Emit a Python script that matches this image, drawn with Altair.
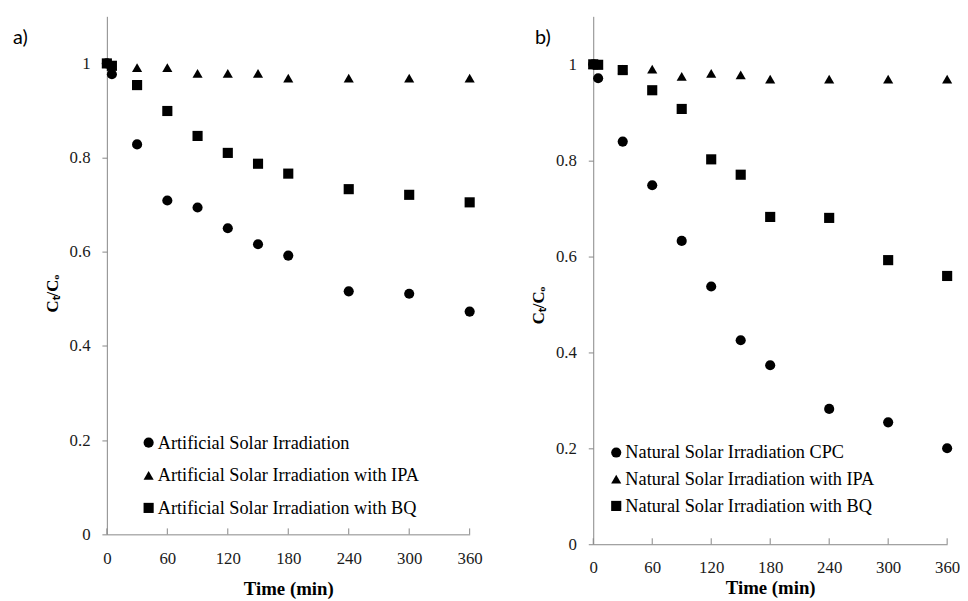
import altair as alt
import pandas as pd

# ---------------- data ----------------
TIME = [0, 5, 30, 60, 90, 120, 150, 180, 240, 300, 360]
XTICKS = [0, 60, 120, 180, 240, 300, 360]
YTICKS = [0, 0.2, 0.4, 0.6, 0.8, 1.0]

A_SERIES = ["Artificial Solar Irradiation",
            "Artificial Solar Irradiation with IPA",
            "Artificial Solar Irradiation with BQ"]
A_SOLAR = [1.0, 0.977, 0.828, 0.709, 0.694, 0.650, 0.616, 0.592, 0.516, 0.511, 0.473]
A_IPA = [1.0, 0.995, 0.991, 0.991, 0.979, 0.979, 0.979, 0.969, 0.969, 0.969, 0.969]
A_BQ = [1.0, 0.995, 0.954, 0.899, 0.846, 0.810, 0.787, 0.766, 0.733, 0.721, 0.705]

B_SERIES = ["Natural Solar Irradiation CPC",
            "Natural Solar Irradiation with IPA",
            "Natural Solar Irradiation with BQ"]
B_CPC = [1.0, 0.971, 0.839, 0.748, 0.632, 0.537, 0.425, 0.373, 0.282, 0.254, 0.200]
B_IPA = [1.0, 1.0, 0.990, 0.990, 0.975, 0.981, 0.978, 0.969, 0.969, 0.969, 0.969]
B_BQ = [1.0, 0.999, 0.988, 0.946, 0.907, 0.802, 0.770, 0.682, 0.680, 0.592, 0.559]

PANEL_LABELS = ["a)", "b)"]
SHAPES = ["circle", "triangle-up", "square"]

SERIF = "Liberation Serif"
AXIS_GRAY = "#878787"


def make_df(series, values):
    rows = []
    for i, (name, vals) in enumerate(zip(series, values)):
        for t, v in zip(TIME, vals):
            rows.append({"t": t, "v": v, "series": name, "k": i})
    return pd.DataFrame(rows)


def panel(df, series, label, width, height, legend_x, legend_y, row_pad,
          label_x, label_pad_x, title_pad_x, title_y):
    xscale = alt.Scale(domain=[0, 360], nice=False, zero=False)
    yscale = alt.Scale(domain=[0, 1.1], nice=False)
    points = alt.Chart(df).mark_point(filled=True, opacity=1, color="black",
                                      size=105).encode(
        x=alt.X("t:Q", scale=xscale,
                axis=alt.Axis(values=XTICKS, ticks=False, grid=False,
                              labelFlush=False,
                              domainColor=AXIS_GRAY, labelPadding=label_pad_x,
                              labelFont=SERIF, labelFontSize=17,
                              labelColor="#1a1a1a",
                              titleFont=SERIF, titleFontSize=19,
                              titleFontWeight="bold", titleColor="black",
                              title="Time (min)", titlePadding=title_pad_x)),
        y=alt.Y("v:Q", scale=yscale,
                axis=alt.Axis(values=YTICKS, format=".1~f", grid=False,
                              labelFlush=False,
                              tickSize=5, tickColor=AXIS_GRAY,
                              domainColor=AXIS_GRAY, labelPadding=12,
                              labelFont=SERIF, labelFontSize=17,
                              labelColor="#1a1a1a",
                              titleFont=SERIF, titleFontSize=17,
                              titleFontWeight="bold", titleColor="black",
                              title="Cₜ/Cₒ", titlePadding=8, titleY=title_y)),
        shape=alt.Shape("series:N", sort=series,
                        scale=alt.Scale(domain=series, range=SHAPES),
                        legend=alt.Legend(orient="none", legendX=legend_x,
                                          legendY=legend_y, title=None,
                                          padding=0, rowPadding=row_pad,
                                          labelOffset=0, labelLimit=0,
                                          labelFont=SERIF,
                                          labelFontSize=18.5, labelColor="black",
                                          symbolFillColor="black",
                                          symbolStrokeColor="black",
                                          symbolStrokeWidth=0,
                                          symbolSize=105)),
        order=alt.Order("k:Q"),
    )

    ticks = alt.Chart(pd.DataFrame({"t": XTICKS})).mark_rule(
        color=AXIS_GRAY, strokeWidth=1).encode(
        x=alt.X("t:Q", scale=xscale),
        y=alt.value(height),
        y2=alt.value(height - 6),
    )

    txt = alt.Chart(pd.DataFrame({"label": [label]})).mark_text(
        align="left", baseline="alphabetic", font="Lato", fontSize=20,
        color="black").encode(
        x=alt.value(label_x), y=alt.value(28), text="label:N")

    return alt.layer(points, ticks, txt).properties(width=width, height=height)


left = panel(make_df(A_SERIES, [A_SOLAR, A_IPA, A_BQ]), A_SERIES, PANEL_LABELS[0],
             367, 524, 33, 422, 14, -95, 16, 14, 280)
right = panel(make_df(B_SERIES, [B_CPC, B_IPA, B_BQ]), B_SERIES, PANEL_LABELS[1],
              358, 534, 14, 432, 8, -59, 16, 3, 292)

chart = alt.hconcat(left, right, spacing=47).resolve_scale(
    shape="independent", x="independent", y="independent"
).resolve_legend(shape="independent").properties(
    padding={"left": 5, "top": 5, "right": 0, "bottom": 0},
    background="white",
).configure_view(stroke=None)

chart.save("out.html", embed_options={"renderer": "svg", "actions": False})
